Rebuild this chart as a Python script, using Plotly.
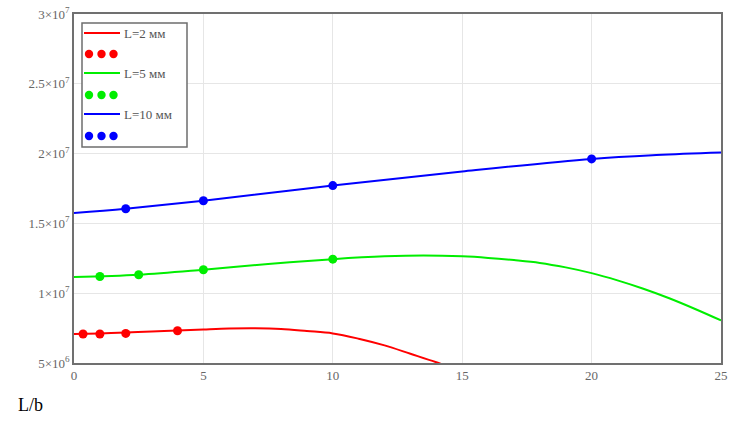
import plotly.graph_objects as go

# calculated curves
x_l2 = [0, 1, 2, 3, 4, 5, 6, 7, 8, 9, 10, 11, 12, 13, 14, 14.6]
y_l2 = [7.08e6, 7.12e6, 7.18e6, 7.25e6, 7.32e6, 7.40e6, 7.47e6, 7.49e6,
        7.44e6, 7.29e6, 7.12e6, 6.74e6, 6.26e6, 5.66e6, 5.05e6, 4.65e6]
x_l5 = [0, 2.5, 5, 7.5, 10, 12, 13.5, 15, 16, 17, 18, 19, 20, 21, 22, 23,
        24, 25]
y_l5 = [11.16e6, 11.32e6, 11.68e6, 12.10e6, 12.44e6, 12.64e6, 12.70e6,
        12.64e6, 12.53e6, 12.37e6, 12.17e6, 11.85e6, 11.44e6, 10.92e6,
        10.32e6, 9.64e6, 8.87e6, 8.05e6]
x_l10 = [0, 2, 5, 10, 15, 20, 22.5, 25]
y_l10 = [15.74e6, 16.05e6, 16.62e6, 17.71e6, 18.72e6, 19.62e6, 19.90e6,
         20.08e6]

# experimental points
px_l2 = [0.35, 1, 2, 4]
py_l2 = [7.08e6, 7.08e6, 7.12e6, 7.31e6]
px_l5 = [1, 2.5, 5, 10]
py_l5 = [11.20e6, 11.32e6, 11.68e6, 12.44e6]
px_l10 = [2, 5, 10, 20]
py_l10 = [16.05e6, 16.62e6, 17.71e6, 19.62e6]

y_ticks = [5e6, 1e7, 1.5e7, 2e7, 2.5e7, 3e7]
y_tick_text = ['5×10<sup>6</sup>', '1×10<sup>7</sup>', '1.5×10<sup>7</sup>',
               '2×10<sup>7</sup>', '2.5×10<sup>7</sup>', '3×10<sup>7</sup>']
x_ticks = [0, 5, 10, 15, 20, 25]

series = [
    ('L=2 мм', '#ff0000', x_l2, y_l2, px_l2, py_l2),
    ('L=5 мм', '#00ee00', x_l5, y_l5, px_l5, py_l5),
    ('L=10 мм', '#0000ff', x_l10, y_l10, px_l10, py_l10),
]

W, H = 755, 423
ML, MR, MT, MB = 74, 34, 14, 60
PW, PH = W - ML - MR, H - MT - MB


def xp(px):
    return (px - ML) / PW


def yp(py):
    return (H - MB - py) / PH


fig = go.Figure()
for name, color, cx, cy, mx, my in series:
    fig.add_trace(go.Scatter(x=cx, y=cy, mode='lines', name=name,
                             line={'color': color, 'width': 2,
                                   'shape': 'spline'}))
    fig.add_trace(go.Scatter(x=mx, y=my, mode='markers', name=name,
                             marker={'color': color, 'size': 9}))

# hand-made legend box (three dots per point series)
shapes = [dict(type='rect', xref='paper', yref='paper',
               x0=xp(82), x1=xp(187), y0=yp(147), y1=yp(23),
               line={'color': '#6e6e6e', 'width': 1.5},
               fillcolor='white', layer='above')]
annotations = []
rows = [(33, 54), (73, 95), (114, 136)]
for (name, color, *_), (ly, dy) in zip(series, rows):
    shapes.append(dict(type='line', xref='paper', yref='paper',
                       x0=xp(84), x1=xp(120), y0=yp(ly), y1=yp(ly),
                       line={'color': color, 'width': 2}, layer='above'))
    annotations.append(dict(text=name, xref='paper', yref='paper',
                            x=xp(122), y=yp(ly), xanchor='left',
                            yanchor='middle', showarrow=False,
                            font={'family': 'Liberation Serif', 'size': 13,
                                  'color': '#555555'}))
    for cx in (89, 101.5, 113.5):
        shapes.append(dict(type='circle', xref='paper', yref='paper',
                           xsizemode='pixel', ysizemode='pixel',
                           xanchor=xp(cx), yanchor=yp(dy),
                           x0=-4.2, x1=4.2, y0=-4.2, y1=4.2,
                           fillcolor=color, line={'width': 0},
                           layer='above'))

annotations.append(dict(text='L/b', xref='paper', yref='paper',
                        x=xp(16), y=yp(405), xanchor='left',
                        yanchor='middle', showarrow=False,
                        font={'family': 'Liberation Serif', 'size': 18,
                              'color': 'black'}))

fig.update_layout(
    width=W, height=H, showlegend=False,
    margin={'l': ML, 'r': MR, 't': MT, 'b': MB, 'autoexpand': False},
    plot_bgcolor='white', paper_bgcolor='white',
    font={'family': 'Liberation Serif', 'size': 13, 'color': '#666666'},
    shapes=shapes, annotations=annotations,
    xaxis={'range': [0, 25], 'tickvals': x_ticks, 'showgrid': True,
           'gridcolor': '#e6e6e6', 'zeroline': False, 'showline': True,
           'mirror': True, 'linecolor': '#707070', 'linewidth': 1.5,
           'ticks': '', 'automargin': False, 'ticklabeloverflow': 'allow'},
    yaxis={'range': [5e6, 3e7], 'tickvals': y_ticks,
           'ticktext': y_tick_text, 'showgrid': True,
           'gridcolor': '#e6e6e6', 'zeroline': False, 'showline': True,
           'mirror': True, 'linecolor': '#707070', 'linewidth': 1.5,
           'ticks': '', 'automargin': False, 'ticklabeloverflow': 'allow'},
)

# drop the default 8px body margin so the figure fills the window
fig.write_html("out.html", config={'displayModeBar': False},
               post_script="document.body.style.margin = '0';")
